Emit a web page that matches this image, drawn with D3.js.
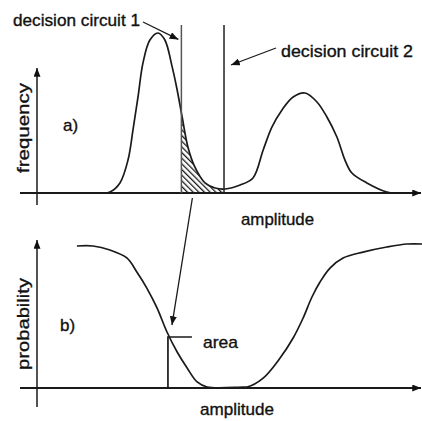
<!DOCTYPE html>
<html><head><meta charset="utf-8">
<script src="https://cdn.jsdelivr.net/npm/d3@7"></script>
<style>html,body{margin:0;padding:0;background:#fff}svg{display:block}text{font-family:"Liberation Sans",Arial,sans-serif;fill:#111;stroke:#111;stroke-width:0.35}</style>
</head><body>
<script>
// ---- data ----
const ampTop  = [17.5,19.0,21.6,23.7,25.0,26.3,27.6,29.4,31.5,33.3,35.2,36.5,37.8,39.3,41.1,43.75,46.4,49.0,52.9,56.25,58.9,61.2,63.8,66.7,69.8,72.9,75.5,78.1,80.2,82.0,85.9,91.1,93.2];
const freqTop = [0,0.6,6.3,20.6,39.4,60,81.3,95.6,100,95.6,78.8,64.4,47.5,28.8,16.3,6.3,3.1,2.5,5,9.4,26.9,41.3,51.9,60,62.5,56.9,47.5,35,20.6,12.5,6.3,0.6,0];
const ampBot  = [10.4,14.6,19.0,23.4,26.0,28.6,31.25,33.85,36.5,39.1,41.7,44.3,53.6,54.7,58.9,63.3,66.7,69.3,71.6,73.7,76.3,79.7,84.9,91.1,96.4,100.3];
const probBot = [0.986,0.986,0.958,0.903,0.806,0.694,0.556,0.389,0.25,0.139,0.042,0.007,0.007,0.007,0.069,0.208,0.347,0.486,0.632,0.736,0.833,0.903,0.944,0.979,1.0,1.0];
const thresholds = [37.6, 48.7];           // decision circuit 1, 2
const thresholdLabels = ["decision circuit 1", "decision circuit 2"];
const areaPoint = [34.1, 0.354];
const axisLabels = ["frequency", "probability", "amplitude"];
const panelLabels = ["a)", "b)"];

// ---- layout ----
const W = 422, H = 421;
const svg = d3.select("body").append("svg").attr("width", W).attr("height", H);
const defs = svg.append("defs");
defs.append("marker").attr("id","ah").attr("viewBox","0 0 10 8").attr("refX",10).attr("refY",4)
  .attr("markerWidth",9).attr("markerHeight",7).attr("markerUnits","userSpaceOnUse").attr("orient","auto")
  .append("path").attr("d","M0,0 L10,4 L0,8 Z").attr("fill","#111");
const pat = defs.append("pattern").attr("id","hatch").attr("patternUnits","userSpaceOnUse")
  .attr("width",4).attr("height",4).attr("patternTransform","rotate(-45)");
pat.append("rect").attr("width",4).attr("height",4).attr("fill","#fff");
pat.append("line").attr("x1",0).attr("y1",0).attr("x2",0).attr("y2",4).attr("stroke","#1a1a1a").attr("stroke-width",2.6);

const x = d3.scaleLinear().domain([0,100]).range([37,421]);
const yTop = d3.scaleLinear().domain([0,100]).range([193,33]);
const yBot = d3.scaleLinear().domain([0,1]).range([388,244]);

const ink = "#1a1a1a";
function axes(g, y0, yTopEnd, yBottomEnd){
  g.append("line").attr("x1",20).attr("x2",421).attr("y1",y0).attr("y2",y0)
    .attr("stroke",ink).attr("stroke-width",2.1).attr("marker-end","url(#ah)");
  g.append("line").attr("x1",x(0)).attr("x2",x(0)).attr("y1",yBottomEnd).attr("y2",yTopEnd)
    .attr("stroke",ink).attr("stroke-width",1.5).attr("marker-end","url(#ah)");
}

// ---- panel a ----
const ga = svg.append("g");
const topPts = ampTop.map((a,i)=>[a,freqTop[i]]);
const lineTop = d3.line().x(d=>x(d[0])).y(d=>yTop(d[1])).curve(d3.curveCatmullRom.alpha(0.5));
const areaTop = d3.area().x(d=>x(d[0])).y0(yTop(0)).y1(d=>yTop(d[1])).curve(d3.curveCatmullRom.alpha(0.5));
defs.append("clipPath").attr("id","clipH").append("rect")
  .attr("x",x(thresholds[0])).attr("y",0).attr("width",x(thresholds[1])-x(thresholds[0])).attr("height",H);
ga.append("path").datum(topPts).attr("d",areaTop).attr("fill","url(#hatch)").attr("clip-path","url(#clipH)");
axes(ga, yTop(0), 68, 205);
ga.append("path").datum(topPts).attr("d",lineTop).attr("fill","none").attr("stroke",ink).attr("stroke-width",1.7);
thresholds.forEach((t,i)=>{
  ga.append("line").attr("x1",x(t)).attr("x2",x(t)).attr("y1",yTop(105)).attr("y2",yTop(0))
    .attr("stroke", i===0 ? "#555" : "#222").attr("stroke-width",1.5);
});
// labels & arrows for thresholds
ga.append("text").attr("x",13).attr("y",26).attr("font-size",17).attr("textLength",127)
  .attr("lengthAdjust","spacingAndGlyphs").text(thresholdLabels[0]);
ga.append("line").attr("x1",143).attr("y1",22).attr("x2",x(thresholds[0])-3).attr("y2",yTop(96))
  .attr("stroke",ink).attr("stroke-width",1.3).attr("marker-end","url(#ah)");
ga.append("text").attr("x",281).attr("y",57).attr("font-size",17).attr("textLength",132)
  .attr("lengthAdjust","spacingAndGlyphs").text(thresholdLabels[1]);
ga.append("line").attr("x1",276).attr("y1",48).attr("x2",x(thresholds[1])+7).attr("y2",yTop(80))
  .attr("stroke",ink).attr("stroke-width",1.3).attr("marker-end","url(#ah)");
ga.append("text").attr("transform","translate(29,128) rotate(-90)").attr("text-anchor","middle")
  .attr("font-size",17).attr("textLength",90).attr("lengthAdjust","spacingAndGlyphs").text(axisLabels[0]);
ga.append("text").attr("x",63).attr("y",131).attr("font-size",17).text(panelLabels[0]);
ga.append("text").attr("x",241).attr("y",225).attr("font-size",17).attr("textLength",73)
  .attr("lengthAdjust","spacingAndGlyphs").text(axisLabels[2]);

// ---- panel b ----
const gb = svg.append("g");
const botPts = ampBot.map((a,i)=>[a,probBot[i]]);
const lineBot = d3.line().x(d=>x(d[0])).y(d=>yBot(d[1])).curve(d3.curveCatmullRom.alpha(0.5));
axes(gb, yBot(0), 240, 407);
gb.append("path").datum(botPts).attr("d",lineBot).attr("fill","none").attr("stroke",ink).attr("stroke-width",1.7);
// area marker
gb.append("path").attr("d",`M${x(areaPoint[0])},${yBot(0)} V${yBot(areaPoint[1])} H${x(areaPoint[0])+24}`)
  .attr("fill","none").attr("stroke",ink).attr("stroke-width",1.7);
gb.append("text").attr("x",203).attr("y",348).attr("font-size",17).attr("textLength",35)
  .attr("lengthAdjust","spacingAndGlyphs").text("area");
// long arrow from threshold 1 to area point
gb.append("line").attr("x1",x(thresholds[0])+11).attr("y1",yTop(0)+5).attr("x2",x(areaPoint[0])+4).attr("y2",yBot(areaPoint[1])-12)
  .attr("stroke",ink).attr("stroke-width",1.3).attr("marker-end","url(#ah)");
gb.append("text").attr("transform","translate(29,324) rotate(-90)").attr("text-anchor","middle")
  .attr("font-size",17).attr("textLength",92).attr("lengthAdjust","spacingAndGlyphs").text(axisLabels[1]);
gb.append("text").attr("x",60).attr("y",331).attr("font-size",17).text(panelLabels[1]);
gb.append("text").attr("x",200).attr("y",415).attr("font-size",17).attr("textLength",74)
  .attr("lengthAdjust","spacingAndGlyphs").text(axisLabels[2]);
</script>
</body></html>
